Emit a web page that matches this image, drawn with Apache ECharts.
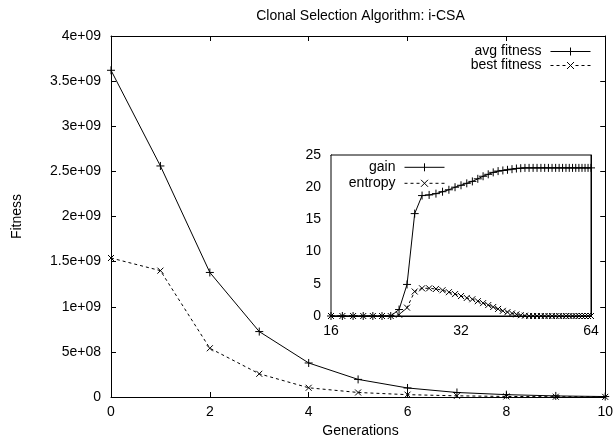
<!DOCTYPE html>
<html>
<head>
<meta charset="utf-8">
<script src="https://cdn.jsdelivr.net/npm/echarts@6/dist/echarts.min.js"></script>
<style>html,body{margin:0;padding:0;background:#fff}#c{width:616px;height:440px}</style>
</head>
<body>
<div id="c"></div>
<script>
// ---- data ----
const generations = [0, 1, 2, 3, 4, 5, 6, 7, 8, 9, 10];
const avgFitness = [3.62e9, 2.56e9, 1.38e9, 7.25e8, 3.77e8, 1.95e8, 1.0e8, 5.0e7, 2.6e7, 1.2e7, 5e6];
const bestFitness = [1.54e9, 1.40e9, 5.4e8, 2.57e8, 1.02e8, 5.0e7, 2.6e7, 1.3e7, 6e6, 3e6, 1.5e6];

const insetX = [16, 17, 18, 19, 20, 21, 22, 23, 24, 25, 26, 27, 28, 29, 30, 31, 32, 33, 34, 35, 36, 37, 38, 39, 40,
  41, 42, 43, 44, 45, 46, 47, 48, 49, 50, 51, 52, 53, 54, 55, 56, 57, 58, 59, 60, 61, 62, 63, 64];
const gain = [0, 0, 0, 0, 0, 0, 0, 1.0, 4.9, 15.9, 18.7, 18.8, 19.0, 19.3, 19.6, 20.0, 20.3, 20.6, 20.9, 21.3, 21.7, 22.0, 22.3, 22.5, 22.6,
  22.7, 22.8, 22.9, 22.95, 23, 23, 23, 23, 23, 23, 23, 23, 23, 23, 23, 23, 23, 23, 23, 23, 23, 23, 23, 23];
const entropy = [0, 0, 0, 0, 0, 0, 0, 0.2, 1.3, 3.8, 4.3, 4.3, 4.2, 4.0, 3.7, 3.4, 3.1, 2.8, 2.6, 2.3, 2.0, 1.7, 1.4, 1.1, 0.8,
  0.6, 0.4, 0.25, 0.12, 0.05, 0, 0, 0, 0, 0, 0, 0, 0, 0, 0, 0, 0, 0, 0, 0, 0, 0, 0, 0];

const mainYTicks = { min: 0, max: 4e9, interval: 5e8 };
const mainXTicks = { min: 0, max: 10, interval: 2 };
const insetYTicks = { min: 0, max: 25, interval: 5 };
const insetXTicks = { min: 16, max: 64 };
const insetXLog2Ticks = { min: 4, max: 6, interval: 1 }; // log2(16)..log2(64), for the mirrored top ticks

const titleText = 'Clonal Selection Algorithm: i-CSA';
const xName = 'Generations';
const yName = 'Fitness';
const seriesNames = ['avg fitness', 'best fitness', 'gain', 'entropy'];

// ---- chart ----
const FONT = '"Liberation Sans", Arial, Helvetica, sans-serif';
const PLUS = 'path://M0,4L8,4M4,0L4,8';
const CROSS = 'path://M0,0L8,8M8,0L0,8';
// legend sample icons (line + marker), 40x8 box
const ICON_SOLID_PLUS = 'path://M0,4L40,4M20,0L20,8';
const ICON_DASH_CROSS = 'path://M0,4L3,4M6,4L9,4M12,4L15,4M16.5,0.5L23.5,7.5M23.5,0.5L16.5,7.5M25,4L28,4M31,4L34,4M37,4L40,4M0,0M40,8';

function fmtExp(v) {
  if (v === 0) return '0';
  return v.toExponential().replace(/e([+-])(\d+)$/, function (m, s, d) {
    return 'e' + s + (d.length < 2 ? '0' + d : d);
  });
}

const axisLine = { show: true, onZero: false, lineStyle: { color: '#000', width: 1 } };
const tick = { show: true, inside: true, length: 5, lineStyle: { color: '#000', width: 1 } };
const lbl = { color: '#000', fontFamily: FONT, fontSize: 14 };

function lineSeries(name, xs, ys, xi, yi, sym, size, dashed) {
  return {
    name: name, type: 'line', xAxisIndex: xi, yAxisIndex: yi,
    data: xs.map((x, i) => [x, ys[i]]),
    symbol: sym, symbolSize: size, showAllSymbol: true, clip: false,
    itemStyle: { color: '#000', borderColor: '#000', borderWidth: 1 },
    lineStyle: { color: '#000', width: 1, type: dashed ? [3, 3] : 'solid' },
    emphasis: { disabled: true }, silent: true, z: 3
  };
}

function legendItems(names, icons) {
  return names.map((n, i) => ({
    name: n, icon: icons[i],
    itemStyle: { color: 'none', borderColor: '#000', borderWidth: 1, borderType: 'solid' }
  }));
}

const legendText = { color: '#000', fontFamily: FONT, fontSize: 14, padding: [0, 4, 0, 0] };

const chart = echarts.init(document.getElementById('c'), null, { renderer: 'canvas' });
chart.setOption({
  animation: false,
  backgroundColor: '#fff',
  textStyle: { fontFamily: FONT },
  grid: [
    { left: 111, top: 36, width: 499, height: 361, containLabel: false },
    { left: 331, top: 155, width: 260, height: 161, containLabel: false, show: true, backgroundColor: '#fff',
      borderColor: '#000', borderWidth: 1, z: 5 }
  ],
  xAxis: [
    { gridIndex: 0, type: 'value', position: 'bottom', min: mainXTicks.min, max: mainXTicks.max, interval: mainXTicks.interval,
      axisLine: axisLine, axisTick: tick, splitLine: { show: false }, axisLabel: Object.assign({ margin: 8 }, lbl) },
    { gridIndex: 0, type: 'value', position: 'top', min: mainXTicks.min, max: mainXTicks.max, interval: mainXTicks.interval,
      axisLine: axisLine, axisTick: tick, splitLine: { show: false }, axisLabel: { show: false } },
    { gridIndex: 1, type: 'log', logBase: 2, position: 'bottom', min: insetXTicks.min, max: insetXTicks.max,
      axisLine: axisLine, axisTick: tick, splitLine: { show: false }, minorTick: { show: false }, axisLabel: Object.assign({ margin: 8 }, lbl) },
    { gridIndex: 1, type: 'value', position: 'top', min: insetXLog2Ticks.min, max: insetXLog2Ticks.max, interval: insetXLog2Ticks.interval,
      axisLine: axisLine, axisTick: tick, splitLine: { show: false }, axisLabel: { show: false } }
  ],
  yAxis: [
    { gridIndex: 0, type: 'value', position: 'left', min: mainYTicks.min, max: mainYTicks.max, interval: mainYTicks.interval,
      axisLine: axisLine, axisTick: tick, splitLine: { show: false }, axisLabel: Object.assign({ margin: 10, formatter: fmtExp }, lbl) },
    { gridIndex: 0, type: 'value', position: 'right', min: mainYTicks.min, max: mainYTicks.max, interval: mainYTicks.interval,
      axisLine: axisLine, axisTick: tick, splitLine: { show: false }, axisLabel: { show: false } },
    { gridIndex: 1, type: 'value', position: 'left', min: insetYTicks.min, max: insetYTicks.max, interval: insetYTicks.interval,
      axisLine: axisLine, axisTick: tick, splitLine: { show: false }, axisLabel: Object.assign({ margin: 10 }, lbl) },
    { gridIndex: 1, type: 'value', position: 'right', min: insetYTicks.min, max: insetYTicks.max, interval: insetYTicks.interval,
      axisLine: axisLine, axisTick: tick, splitLine: { show: false }, axisLabel: { show: false } }
  ],
  legend: [
    { data: legendItems([seriesNames[0], seriesNames[1]], [ICON_SOLID_PLUS, ICON_DASH_CROSS]),
      orient: 'vertical', align: 'right', right: 23, top: 44.5,
      itemWidth: 40, itemHeight: 8, itemGap: 0, padding: 0, selectedMode: false,
      textStyle: Object.assign({ lineHeight: 12.5 }, legendText) },
    { data: legendItems([seriesNames[2], seriesNames[3]], [ICON_SOLID_PLUS, ICON_DASH_CROSS]),
      orient: 'vertical', align: 'right', right: 169, top: 160.3,
      itemWidth: 40, itemHeight: 8, itemGap: 2, padding: 0, selectedMode: false, z: 10,
      textStyle: Object.assign({ lineHeight: 14 }, legendText) }
  ],
  graphic: [
    { type: 'text', x: 360.5, y: 16, style: { text: titleText, fill: '#000', font: '14px ' + FONT, textAlign: 'center', textVerticalAlign: 'middle' } },
    { type: 'text', x: 360.5, y: 431, style: { text: xName, fill: '#000', font: '14px ' + FONT, textAlign: 'center', textVerticalAlign: 'middle' } },
    { type: 'text', x: 17.5, y: 216.5, rotation: Math.PI / 2, style: { text: yName, fill: '#000', font: '14px ' + FONT, textAlign: 'center', textVerticalAlign: 'middle' } }
  ],
  series: [
    lineSeries(seriesNames[0], generations, avgFitness, 0, 0, PLUS, 8, false),
    lineSeries(seriesNames[1], generations, bestFitness, 0, 0, CROSS, 6, true),
    Object.assign(lineSeries(seriesNames[2], insetX, gain, 2, 2, PLUS, 8, false), { z: 6 }),
    Object.assign(lineSeries(seriesNames[3], insetX, entropy, 2, 2, CROSS, 6, true), { z: 6 })
  ]
});
</script>
</body>
</html>
